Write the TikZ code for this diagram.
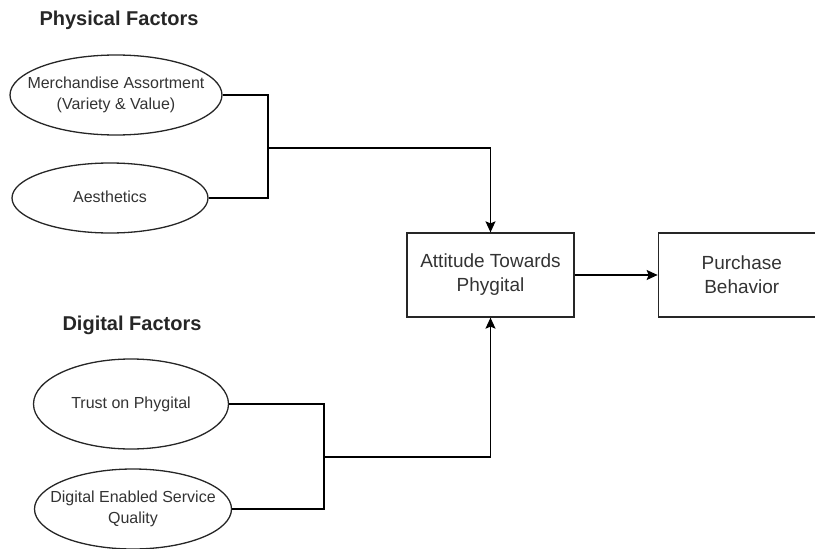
\documentclass[tikz,border=0pt]{standalone}
\usepackage{fontspec}
\setmainfont{Liberation Sans}
\usetikzlibrary{shapes.geometric, arrows.meta, positioning}

% text of an ellipse, kept out of the size of the shape
\newcommand{\ovaltext}[1]{\makebox[0pt]{\begin{tabular}{@{}c@{}}#1\end{tabular}}}

\begin{document}
\begin{tikzpicture}[x=1pt, y=-1pt, line width=1.3pt,
  heading/.style={font=\fontsize{20}{24}\selectfont\bfseries, text=black!85},
  factor/.style={ellipse, draw=black!85, inner sep=0pt, font=\fontsize{16}{21}\selectfont, text=black!80},
  stage/.style={rectangle, draw=black!85, minimum width=167pt, minimum height=84pt, align=center, font=\fontsize{19}{24}\selectfont, text=black!80},
  link/.style={-{Stealth[length=11pt, width=10pt, inset=2pt]}}]
  \clip (0,0) rectangle (815,549);

  % Physical factors
  \node[heading] (physhead) at (119, 20) {Physical Factors};
  \node[factor, minimum width=212pt, minimum height=80pt] (merch) at (116, 95) {\ovaltext{Merchandise Assortment\\(Variety \& Value)}};
  \node[factor, minimum width=196pt, minimum height=70pt] (aesth) at (110, 198) {\ovaltext{Aesthetics}};

  % Digital factors
  \node[heading] (digihead) at (132, 325) {Digital Factors};
  \node[factor, minimum width=195pt, minimum height=90pt] (trust) at (131, 404) {\ovaltext{Trust on Phygital}};
  \node[factor, minimum width=197pt, minimum height=80pt] (servq) at (133, 509) {\ovaltext{Digital Enabled Service\\Quality}};

  % Outcome boxes
  \node[stage] (att) at (490.5, 275) {Attitude Towards\\Phygital};
  \node[stage, right=83pt of att] (purch) {Purchase\\Behavior};

  % Joints of the connectors
  \coordinate (physjoin) at (268, 148);
  \coordinate (digijoin) at (324, 457);

  \draw (merch.east) -| (physjoin);
  \draw (aesth.east) -| (physjoin);
  \draw[link] (physjoin) -| (att.north);

  \draw (trust.east) -| (digijoin);
  \draw (servq.east) -| (digijoin);
  \draw[link] (digijoin) -| (att.south);

  \draw[link] (att) -- (purch);
\end{tikzpicture}
\end{document}
